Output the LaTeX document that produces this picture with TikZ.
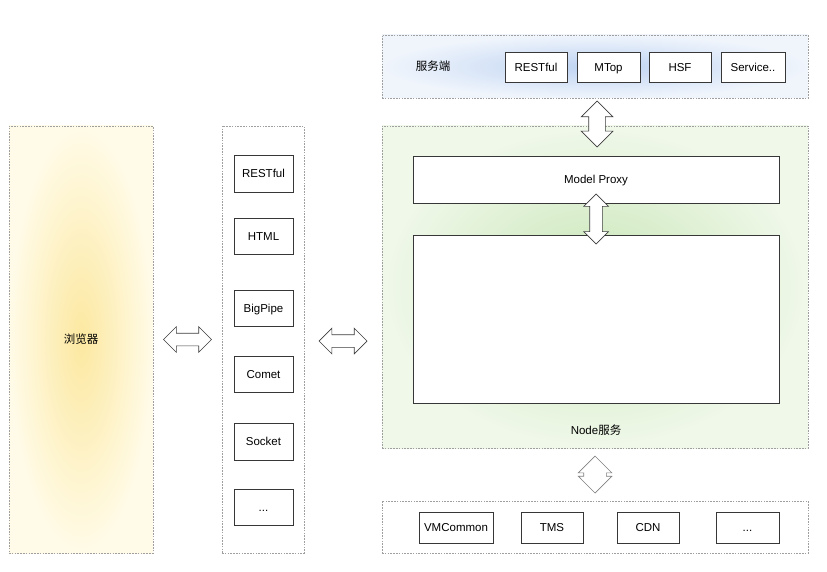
\documentclass[tikz,border=0pt]{standalone}
\usepackage{fontspec}
\setmainfont{Liberation Sans}
\newfontfamily\cjk{Noto Sans CJK SC}
\usetikzlibrary{shapes.arrows,calc}

\begin{document}
\begin{tikzpicture}[x=1pt,y=-1pt,
    font=\fontsize{11.5}{13}\selectfont,
    panel/.style={draw=gray!75,dash pattern=on 1.6pt off 1.2pt,line width=0.7pt,inner sep=0pt},
    box/.style={draw={rgb,255:red,55;green,55;blue,55},line width=0.9pt,fill=white,inner sep=0pt,
                text height=8.2pt,text depth=0pt},
    dblarrow/.style={double arrow,draw={rgb,255:red,60;green,60;blue,60},line width=0.7pt,fill=white,inner xsep=0pt}]
    \useasboundingbox (0,0) rectangle (827,572);
    % left side
    \node[panel,minimum width=144,minimum height=427,shading=radial,
          inner color={rgb,255:red,252;green,232;blue,160},outer color={rgb,255:red,255;green,251;blue,232}] (browser) at (81,339.5) {};
    \node at (browser.center) {\cjk 浏览器};
    \node[panel,minimum width=82,minimum height=427] (proto) at (263,339.5) {};
    \node[box,minimum width=59,minimum height=37] (prest) at (263.5,173.5) {RESTful};
    \node[box,minimum width=59,minimum height=36] (phtml) at (263.5,236) {HTML};
    \node[box,minimum width=59,minimum height=36] (pbig) at (263.5,308) {BigPipe};
    \node[box,minimum width=59,minimum height=36] (pcomet) at (263.5,374) {Comet};
    \node[box,minimum width=59,minimum height=37] (psock) at (263.5,441.5) {Socket};
    \node[box,minimum width=59,minimum height=36] (pmore) at (263.5,507) {...};
    \node[dblarrow,minimum height=48,inner ysep=6pt,double arrow head extend=6.5] (a1)
        at ($(browser.east)!0.5!(proto.west)$) {};
    % server side
    \node[panel,minimum width=426,minimum height=63,shading=radial,
          inner color={rgb,255:red,190;green,211;blue,242},outer color={rgb,255:red,240;green,245;blue,252}] (server) at (595,66.5) {};
    \node at (433,66) {\cjk 服务端};
    \node[box,minimum width=62,minimum height=30] (srest) at (536,67) {RESTful};
    \node[box,minimum width=63,minimum height=30] (smtop) at (608.5,67) {MTop};
    \node[box,minimum width=62,minimum height=30] (shsf) at (680,67) {HSF};
    \node[box,minimum width=64,minimum height=30] (sserv) at (753,67) {Service..};
    % node service
    \node[panel,minimum width=426,minimum height=322,shading=radial,
          inner color={rgb,255:red,200;green,230;blue,182},outer color={rgb,255:red,240;green,248;blue,234}] (nodesvc) at (595,287) {};
    \node[box,minimum width=366,minimum height=47] (proxy) at (596,179.5) {Model Proxy};
    \node[box,minimum width=366,minimum height=168] (core) at (596,319) {};
    \node at (596,430) {Node{\cjk 服务}};
    \node[dblarrow,minimum height=48,inner ysep=6pt,double arrow head extend=6.5] (a2)
        at ($(proto.east |- 0,341)!0.5!(nodesvc.west |- 0,341)$) {};
    \node[dblarrow,rotate=90,minimum height=46,inner ysep=8pt,double arrow head extend=7.5] (a3)
        at (597,124) {};
    \node[dblarrow,rotate=90,minimum height=50,inner ysep=6pt,double arrow head extend=6] (a4)
        at ($(proxy.south)!0.5!(core.north)$) {};
    % bottom
    \node[panel,minimum width=426,minimum height=52] (infra) at (595,527) {};
    \node[box,minimum width=74,minimum height=31] (ivm) at (456,527.5) {VMCommon};
    \node[box,minimum width=62,minimum height=31] (itms) at (552,527.5) {TMS};
    \node[box,minimum width=62,minimum height=31] (icdn) at (648,527.5) {CDN};
    \node[box,minimum width=63,minimum height=31] (imore) at (747.5,527.5) {...};
    \node[dblarrow,draw=gray,rotate=90,minimum height=37,inner ysep=11pt,double arrow head extend=5.5] (a5)
        at ($(nodesvc.south)!0.5!(infra.north)$) {};
\end{tikzpicture}
\end{document}
